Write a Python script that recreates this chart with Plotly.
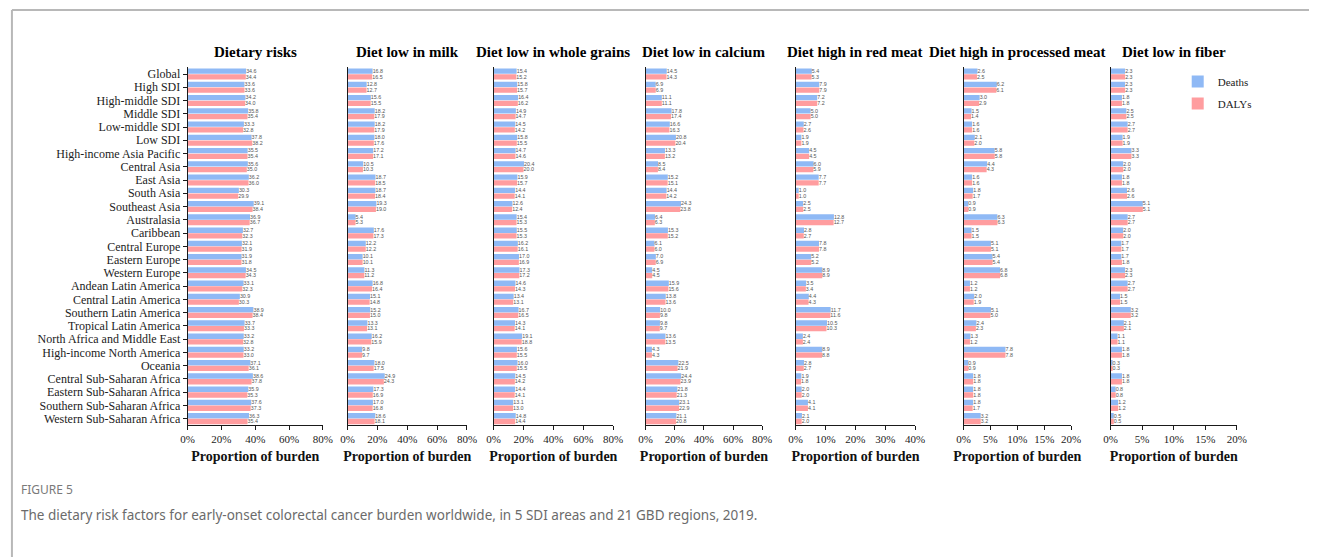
import plotly.graph_objects as go

# ---- data -------------------------------------------------------------
regions = [
    "Global", "High SDI", "High-middle SDI", "Middle SDI", "Low-middle SDI", "Low SDI",
    "High-income Asia Pacific", "Central Asia", "East Asia", "South Asia", "Southeast Asia",
    "Australasia", "Caribbean", "Central Europe", "Eastern Europe", "Western Europe",
    "Andean Latin America", "Central Latin America", "Southern Latin America",
    "Tropical Latin America", "North Africa and Middle East", "High-income North America",
    "Oceania", "Central Sub-Saharan Africa", "Eastern Sub-Saharan Africa",
    "Southern Sub-Saharan Africa", "Western Sub-Saharan Africa",
]

dietary_deaths = [34.6, 33.6, 34.2, 35.8, 33.3, 37.8, 35.5, 35.6, 36.2, 30.3, 39.1, 36.9, 32.7, 32.1,
                  31.9, 34.5, 33.1, 30.9, 38.9, 33.7, 33.2, 33.2, 37.1, 38.6, 35.9, 37.6, 36.3]
dietary_dalys = [34.4, 33.6, 34.0, 35.4, 32.8, 38.2, 35.4, 35.0, 36.0, 29.9, 38.4, 36.7, 32.3, 31.9,
                 31.8, 34.3, 32.3, 30.3, 38.4, 33.3, 32.8, 33.0, 36.1, 37.8, 35.3, 37.3, 35.4]

milk_deaths = [16.8, 12.8, 15.6, 18.2, 18.2, 18.0, 17.2, 10.5, 18.7, 18.7, 19.3, 5.4, 17.6, 12.2,
               10.1, 11.3, 16.8, 15.1, 15.2, 13.3, 16.2, 9.8, 18.0, 24.9, 17.3, 17.0, 18.6]
milk_dalys = [16.5, 12.7, 15.5, 17.9, 17.9, 17.6, 17.1, 10.3, 18.5, 18.4, 19.0, 5.3, 17.3, 12.2,
              10.1, 11.2, 16.4, 14.8, 15.0, 13.1, 15.9, 9.7, 17.5, 24.3, 16.9, 16.8, 18.1]

grains_deaths = [15.4, 15.8, 16.4, 14.9, 14.5, 15.8, 14.7, 20.4, 15.9, 14.4, 12.6, 15.4, 15.5, 16.2,
                 17.0, 17.3, 14.6, 13.4, 16.7, 14.3, 19.1, 15.6, 16.0, 14.5, 14.4, 13.1, 14.8]
grains_dalys = [15.2, 15.7, 16.2, 14.7, 14.2, 15.5, 14.6, 20.0, 15.7, 14.1, 12.4, 15.3, 15.3, 16.1,
                16.9, 17.2, 14.3, 13.1, 16.5, 14.1, 18.8, 15.5, 15.5, 14.2, 14.1, 13.0, 14.4]

calcium_deaths = [14.5, 6.9, 11.1, 17.8, 16.6, 20.8, 13.3, 8.5, 15.2, 14.4, 24.3, 6.4, 15.3, 6.1,
                  7.0, 4.5, 15.9, 13.8, 10.0, 9.8, 13.6, 4.3, 22.5, 24.4, 21.8, 23.1, 21.1]
calcium_dalys = [14.3, 6.9, 11.1, 17.4, 16.3, 20.4, 13.2, 8.4, 15.1, 14.2, 23.8, 6.3, 15.2, 6.0,
                 6.9, 4.5, 15.6, 13.6, 9.8, 9.7, 13.5, 4.3, 21.9, 23.9, 21.3, 22.9, 20.8]

red_meat_deaths = [5.4, 7.9, 7.2, 5.0, 2.7, 1.9, 4.5, 6.0, 7.7, 1.0, 2.5, 12.8, 2.8, 7.8,
                   5.2, 8.9, 3.5, 4.4, 11.7, 10.5, 2.4, 8.9, 2.8, 1.9, 2.0, 4.1, 2.1]
red_meat_dalys = [5.3, 7.9, 7.2, 5.0, 2.6, 1.9, 4.5, 5.9, 7.7, 1.0, 2.5, 12.7, 2.7, 7.8,
                  5.2, 8.9, 3.4, 4.3, 11.6, 10.3, 2.4, 8.8, 2.7, 1.8, 2.0, 4.1, 2.0]

processed_deaths = [2.6, 6.2, 3.0, 1.5, 1.6, 2.1, 5.8, 4.4, 1.6, 1.8, 0.9, 6.3, 1.5, 5.1,
                    5.4, 6.8, 1.2, 2.0, 5.1, 2.4, 1.3, 7.8, 0.9, 1.8, 1.8, 1.8, 3.2]
processed_dalys = [2.5, 6.1, 2.9, 1.4, 1.6, 2.0, 5.8, 4.3, 1.6, 1.7, 0.9, 6.3, 1.5, 5.1,
                   5.4, 6.8, 1.2, 1.9, 5.0, 2.3, 1.2, 7.8, 0.9, 1.8, 1.8, 1.7, 3.2]

fiber_deaths = [2.3, 2.3, 1.8, 2.5, 2.7, 1.9, 3.3, 2.0, 1.8, 2.6, 5.1, 2.7, 2.0, 1.7,
                1.7, 2.3, 2.7, 1.5, 3.2, 2.1, 1.1, 1.8, 0.3, 1.8, 0.8, 1.2, 0.5]
fiber_dalys = [2.3, 2.3, 1.8, 2.5, 2.7, 1.9, 3.3, 2.0, 1.8, 2.6, 5.1, 2.7, 2.0, 1.7,
               1.8, 2.3, 2.7, 1.5, 3.2, 2.1, 1.1, 1.8, 0.3, 1.8, 0.8, 1.2, 0.5]

panel_titles = ["Dietary risks", "Diet low in milk", "Diet low in whole grains",
                "Diet low in calcium", "Diet high in red meat",
                "Diet high in processed meat", "Diet low in fiber"]
axis_max = [80, 80, 80, 80, 40, 20, 20]
axis_step = [20, 20, 20, 20, 10, 5, 5]

# ---- layout constants -------------------------------------------------
W, H = 1319, 558
BLUE = "#8fb9f5"
PINK = "#ff9d9f"
SERIF = "Liberation Serif, Times New Roman, serif"
SANS = "Liberation Sans, Arial, sans-serif"

# horizontal pixel extent of each panel's plotting area
panel_px = [(183, 320), (345, 466), (493, 614), (647, 765), (799, 920), (969, 1078), (1118, 1246)]
plot_top, plot_bottom = 67.5, 426.0
y_dom = [1 - plot_bottom / H, 1 - plot_top / H]

series = [
    (dietary_deaths, dietary_dalys),
    (milk_deaths, milk_dalys),
    (grains_deaths, grains_dalys),
    (calcium_deaths, calcium_dalys),
    (red_meat_deaths, red_meat_dalys),
    (processed_deaths, processed_dalys),
    (fiber_deaths, fiber_dalys),
]

fig = go.Figure()
layout_axes = {}
annotations = []

for i, ((deaths, dalys), title, xmax, step, (px0, px1)) in enumerate(
        zip(series, panel_titles, axis_max, axis_step, panel_px), start=1):
    xa = "x" if i == 1 else f"x{i}"
    ya = "y" if i == 1 else f"y{i}"
    for name, vals, color in (("Deaths", deaths, BLUE), ("DALYs", dalys, PINK)):
        fig.add_trace(go.Bar(
            y=regions, x=vals, orientation="h", name=name,
            marker=dict(color=color, line=dict(width=0)),
            text=vals, texttemplate="%{x:.1f}", textposition="outside",
            textfont=dict(family=SANS, size=6, color="#555555"),
            cliponaxis=False, xaxis=xa, yaxis=ya,
            showlegend=(i == 1), legendgroup=name,
        ))

    layout_axes["xaxis" if i == 1 else f"xaxis{i}"] = dict(
        domain=[px0 / W, px1 / W], anchor=ya, range=[0, xmax], dtick=step,
        ticksuffix="%", showgrid=False, zeroline=False,
        showline=True, linecolor="#1a1a1a", linewidth=1,
        ticks="outside", ticklen=4, tickcolor="#1a1a1a",
        tickfont=dict(family=SERIF, size=11, color="#222222"),
        title=dict(text="<b>Proportion of burden</b>", standoff=6,
                   font=dict(family=SERIF, size=14, color="#111111")),
        fixedrange=True,
    )
    layout_axes["yaxis" if i == 1 else f"yaxis{i}"] = dict(
        domain=y_dom, anchor=xa, type="category",
        categoryorder="array", categoryarray=regions, autorange="reversed",
        tickmode="array", tickvals=regions, ticktext=regions,
        showgrid=False, zeroline=False,
        showline=True, linecolor="#1a1a1a", linewidth=1,
        ticks="outside" if i == 1 else "", ticklen=4, tickcolor="#1a1a1a",
        showticklabels=(i == 1),
        tickfont=dict(family=SERIF, size=12, color="#222222"),
        fixedrange=True,
    )

    annotations.append(dict(
        text=f"<b>{title}</b>", x=(px0 + px1) / 2 / W, y=1 - 52 / H,
        xref="paper", yref="paper", xanchor="center", yanchor="middle",
        showarrow=False, font=dict(family=SERIF, size=15, color="#000000"),
    ))

annotations.append(dict(
    text="FIGURE 5", x=12 / W, y=1 - 490 / H, xref="paper", yref="paper",
    xanchor="left", yanchor="middle", showarrow=False,
    font=dict(family="Noto Sans, sans-serif", size=12, color="#7a7a7a"),
))
annotations.append(dict(
    text="The dietary risk factors for early-onset colorectal cancer burden worldwide, "
         "in 5 SDI areas and 21 GBD regions, 2019.",
    x=12 / W, y=1 - 516 / H, xref="paper", yref="paper",
    xanchor="left", yanchor="middle", showarrow=False,
    font=dict(family="Noto Sans, sans-serif", size=13.5, color="#6b6b6b"),
))

# thin grey frame along the top and left edges
frame = dict(type="line", xref="paper", yref="paper", line=dict(color="#b8b8b8", width=2))
shapes = [
    dict(frame, x0=5 / W, x1=1, y0=1 - 10 / H, y1=1 - 10 / H),
    dict(frame, x0=5 / W, x1=5 / W, y0=0, y1=1 - 10 / H),
]

fig.update_layout(
    width=W, height=H, autosize=False,
    margin=dict(l=0, r=0, t=0, b=0),
    paper_bgcolor="white", plot_bgcolor="white",
    barmode="group", bargap=0.14, bargroupgap=0.06,
    showlegend=True,
    legend=dict(x=1186 / W, y=1 - 67 / H, xanchor="left", yanchor="top",
                font=dict(family=SERIF, size=11, color="#222222"),
                tracegroupgap=3,
                bgcolor="rgba(0,0,0,0)", itemclick=False, itemdoubleclick=False),
    annotations=annotations, shapes=shapes,
    **layout_axes,
)

fig.write_html("out.html")
